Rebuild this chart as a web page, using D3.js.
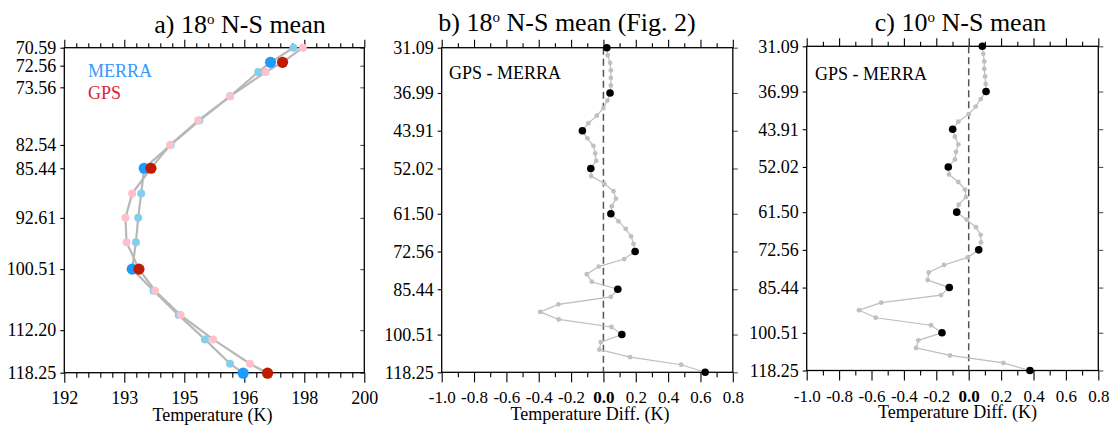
<!DOCTYPE html>
<html>
<head>
<meta charset="utf-8">
<script src="https://cdn.jsdelivr.net/npm/d3@7"></script>
<style>
  body { margin: 0; background: #fff; }
  svg { font-family: "Liberation Serif", "Times New Roman", serif; }
</style>
</head>
<body>
<div id="chart"></div>
<script>
// ---- panel a: temperature profiles (18 deg N-S mean) ----
const tempTicks = [192, 193.6, 195.2, 196.8, 198.4, 200];
const tempTickLabels = ["192", "193", "195", "196", "198", "200"];
const levelTicksA = [0, 0.74, 1.63, 4.0, 4.96, 7.0, 9.11, 11.62, 13.37];
const levelLabelsA = ["70.59", "72.56", "73.56", "82.54", "85.44", "92.61", "100.51", "112.20", "118.25"];

// small dots (GPS levels) and big dots (MERRA levels)
const smallLevels = [0, 1, 2, 3, 4, 6, 7, 8, 10, 11, 12, 13];
const merraSmall = [198.11, 197.17, 196.42, 195.60, 194.84, 194.05, 193.97, 193.91, 194.38, 195.05, 195.75, 196.42];
const gpsSmall   = [198.36, 197.37, 196.42, 195.57, 194.82, 193.81, 193.63, 193.66, 194.42, 195.10, 195.97, 196.95];
const bigLevels = [0.6, 4.96, 9.11, 13.39];
const merraBig = [197.50, 194.13, 193.81, 196.77];
const gpsBig   = [197.82, 194.31, 193.99, 197.42];

// ---- panels b, c: GPS - MERRA differences ----
const diffTicks = [-1.0, -0.8, -0.6, -0.4, -0.2, 0.0, 0.2, 0.4, 0.6, 0.8];
const diffTickLabels = ["-1.0", "-0.8", "-0.6", "-0.4", "-0.2", "0.0", "0.2", "0.4", "0.6", "0.8"];
const diffTickLevels = [0, 6, 11, 16, 22, 27, 32, 38, 43];
const diffTickLabelsY = ["31.09", "36.99", "43.91", "52.02", "61.50", "72.56", "85.44", "100.51", "118.25"];
const diffLevels = [0, 1, 2, 3, 4, 5, 6, 7, 8, 9, 10, 11, 12, 13, 14, 15, 16, 17, 18, 19, 20, 21,
                    22, 23, 24, 25, 26, 27, 28, 29, 30, 31, 32, 33, 34, 35, 36, 37, 38, 39, 40, 41, 42, 43];
const diff18 = [0.021, 0.027, 0.041, 0.046, 0.046, 0.046, 0.041, 0.025, 0.000, -0.041, -0.093,
                -0.130, -0.099, -0.062, -0.051, -0.045, -0.078, -0.076, 0.006, 0.062, 0.077, 0.052,
                0.046, 0.093, 0.138, 0.171, 0.186, 0.196, 0.128, -0.029, -0.103, -0.072, 0.089,
                0.046, -0.278, -0.391, -0.276, 0.050, 0.114, -0.016, -0.025, 0.165, 0.481, 0.629];
const diff10 = [0.084, 0.090, 0.096, 0.096, 0.101, 0.105, 0.107, 0.074, 0.043, 0.000, -0.064,
                -0.099, -0.085, -0.064, -0.078, -0.085, -0.126, -0.122, -0.064, -0.023, -0.017, -0.062,
                -0.074, -0.012, 0.045, 0.074, 0.076, 0.062, -0.006, -0.152, -0.247, -0.253, -0.120,
                -0.171, -0.540, -0.677, -0.574, -0.233, -0.165, -0.311, -0.325, -0.115, 0.214, 0.378];

const svg = d3.select("#chart").append("svg")
    .attr("width", 1115)
    .attr("height", 425);

function minorTicks(majors, n) {
    const out = [];
    for (let i = 1; i < majors.length; i++) {
        for (let k = 1; k < n; k++) out.push(majors[i - 1] + (majors[i] - majors[i - 1]) * k / n);
    }
    return out;
}

function styleAxis(g, size) {
    g.attr("font-family", null).attr("font-size", null);
    g.select(".domain").remove();
    g.selectAll(".tick line").attr("stroke", "#000").attr("stroke-width", 1.1);
    g.selectAll(".tick text").attr("fill", "#000").style("font-size", (size || 18) + "px");
}

function panel(o) {
    const g = svg.append("g");
    const x = d3.scaleLinear().domain(o.xDomain).range(o.xRange);
    const y = d3.scaleLinear().domain(o.yDomain).range(o.yRange);
    const [x0, x1] = o.xRange, [y0, y1] = o.yRange;
    const minor = minorTicks(o.xTicks, o.nMinor);

    // bottom axis
    g.append("g").attr("transform", `translate(0,${y1})`)
        .call(d3.axisBottom(x).tickValues(minor).tickFormat("").tickSize(5).tickSizeOuter(0))
        .call(styleAxis);
    const bx = g.append("g").attr("transform", `translate(0,${y1})`)
        .call(d3.axisBottom(x).tickValues(o.xTicks).tickFormat((d, i) => o.xLabels[i])
            .tickSize(10).tickPadding(9).tickSizeOuter(0))
        .call(styleAxis, o.xFont);
    if (o.boldZero) bx.selectAll(".tick text").filter(d => d === 0).attr("font-weight", "bold");

    // top axis (no labels)
    g.append("g").attr("transform", `translate(0,${y0})`)
        .call(d3.axisTop(x).tickValues(minor).tickFormat("").tickSize(4.5).tickSizeOuter(0))
        .call(styleAxis);
    g.append("g").attr("transform", `translate(0,${y0})`)
        .call(d3.axisTop(x).tickValues(o.xTicks).tickFormat("").tickSize(8).tickSizeOuter(0))
        .call(styleAxis);

    // left axis
    g.append("g").attr("transform", `translate(${x0},0)`)
        .call(d3.axisLeft(y).tickValues(o.yTicks).tickFormat((d, i) => o.yLabels[i])
            .tickSize(4).tickPadding(4).tickSizeOuter(0))
        .call(styleAxis);
    // right axis
    const ra = g.append("g").attr("transform", `translate(${x1},0)`)
        .call(d3.axisRight(y).tickValues(o.yTicks).tickFormat("").tickSize(o.rightTick).tickSizeOuter(0))
        .call(styleAxis);
    ra.selectAll(".tick line").attr("stroke", "#555");

    // frame
    g.append("rect")
        .attr("x", x0).attr("y", y0)
        .attr("width", x1 - x0).attr("height", y1 - y0)
        .attr("fill", "none").attr("stroke", "#000").attr("stroke-width", 1.3);

    // title
    const t = g.append("text")
        .attr("x", o.titleX).attr("y", o.titleY)
        .attr("text-anchor", "middle")
        .attr("font-size", 26)
        .attr("fill", "#000");
    t.append("tspan").text(o.title[0]);
    t.append("tspan").attr("font-size", 15).attr("dy", -9).text("o");
    t.append("tspan").attr("dy", 9).text(" " + o.title[1]);

    // x label
    g.append("text")
        .attr("x", o.xLabelX).attr("y", o.xLabelY)
        .attr("text-anchor", "middle")
        .attr("font-size", 18)
        .text(o.xTitle);

    return { g, x, y };
}

// ---------- panel a ----------
const pa = panel({
    xDomain: [192, 200], xRange: [64.3, 364.3],
    yDomain: [0, 13.37], yRange: [47.7, 372.7],
    xTicks: tempTicks, xLabels: tempTickLabels, nMinor: 5, xFont: 18,
    yTicks: levelTicksA, yLabels: levelLabelsA, rightTick: -4,
    title: ["a) 18", "N-S mean"], titleX: 240, titleY: 33,
    xTitle: "Temperature (K)", xLabelX: 212.5, xLabelY: 421
});

function profile(smallVals, bigVals) {
    return smallLevels.map((l, i) => ({ l, v: smallVals[i] }))
        .concat(bigLevels.map((l, i) => ({ l, v: bigVals[i] })))
        .sort((a, b) => a.l - b.l);
}
const lineA = d3.line().x(d => pa.x(d.v)).y(d => pa.y(d.l));
const layerA = pa.g.append("g");
[profile(merraSmall, merraBig), profile(gpsSmall, gpsBig)].forEach(p => {
    layerA.append("path").datum(p)
        .attr("d", lineA)
        .attr("fill", "none")
        .attr("stroke", "#b8b8b8")
        .attr("stroke-width", 2.2);
});
layerA.selectAll("circle.ms").data(merraSmall).join("circle")
    .attr("cx", d => pa.x(d)).attr("cy", (d, i) => pa.y(smallLevels[i]))
    .attr("r", 4).attr("fill", "#87ceeb");
layerA.selectAll("circle.gs").data(gpsSmall).join("circle")
    .attr("cx", d => pa.x(d)).attr("cy", (d, i) => pa.y(smallLevels[i]))
    .attr("r", 4).attr("fill", "#ffc0cb");
layerA.selectAll("circle.mb").data(merraBig).join("circle")
    .attr("cx", d => pa.x(d)).attr("cy", (d, i) => pa.y(bigLevels[i]))
    .attr("r", 5.6).attr("fill", "#1e9bff");
layerA.selectAll("circle.gb").data(gpsBig).join("circle")
    .attr("cx", d => pa.x(d)).attr("cy", (d, i) => pa.y(bigLevels[i]))
    .attr("r", 5.6).attr("fill", "#c01a00");

pa.g.append("text").attr("x", 88).attr("y", 77)
    .attr("font-size", 18).attr("fill", "#3399ff").text("MERRA");
pa.g.append("text").attr("x", 88).attr("y", 99)
    .attr("font-size", 18).attr("fill", "#dc1e3c").text("GPS");

// ---------- panels b and c ----------
function diffPanel(vals, opts) {
    const p = panel(Object.assign({
        xDomain: [-1.0, 0.8],
        yDomain: [0, 43],
        xTicks: diffTicks, xLabels: diffTickLabels, nMinor: 2, boldZero: true, xFont: 17,
        yTicks: diffTickLevels, yLabels: diffTickLabelsY, rightTick: 5,
        xTitle: "Temperature Diff. (K)"
    }, opts));

    p.g.append("line")
        .attr("x1", p.x(0)).attr("x2", p.x(0))
        .attr("y1", p.y(0)).attr("y2", p.y(43))
        .attr("stroke", "#555").attr("stroke-width", 1.5)
        .attr("stroke-dasharray", "7,4");

    const pts = diffLevels.map((l, i) => ({ l, v: vals[i] }));
    p.g.append("path").datum(pts)
        .attr("d", d3.line().x(d => p.x(d.v)).y(d => p.y(d.l)))
        .attr("fill", "none").attr("stroke", "#bdbdbd").attr("stroke-width", 1.2);
    p.g.selectAll("circle.s").data(pts).join("circle")
        .attr("cx", d => p.x(d.v)).attr("cy", d => p.y(d.l))
        .attr("r", 2.4).attr("fill", "#c0c0c0");
    p.g.append("g").selectAll("circle")
        .data(pts.filter(d => diffTickLevels.includes(d.l)))
        .join("circle")
        .attr("cx", d => p.x(d.v)).attr("cy", d => p.y(d.l))
        .attr("r", 3.8).attr("fill", "#000");

    p.g.append("text").attr("x", opts.noteX).attr("y", opts.noteY)
        .attr("font-size", 18).text("GPS - MERRA");
    return p;
}

diffPanel(diff18, {
    xRange: [441.7, 732.8], yRange: [47.7, 372.3],
    title: ["b) 18", "N-S mean (Fig. 2)"], titleX: 567, titleY: 31,
    xLabelX: 590, xLabelY: 420, noteX: 449, noteY: 78.5
});
diffPanel(diff10, {
    xRange: [806.7, 1098.3], yRange: [46.3, 370.5],
    title: ["c) 10", "N-S mean"], titleX: 960.5, titleY: 31,
    xLabelX: 957.5, xLabelY: 418, noteX: 815, noteY: 80
});
</script>
</body>
</html>
